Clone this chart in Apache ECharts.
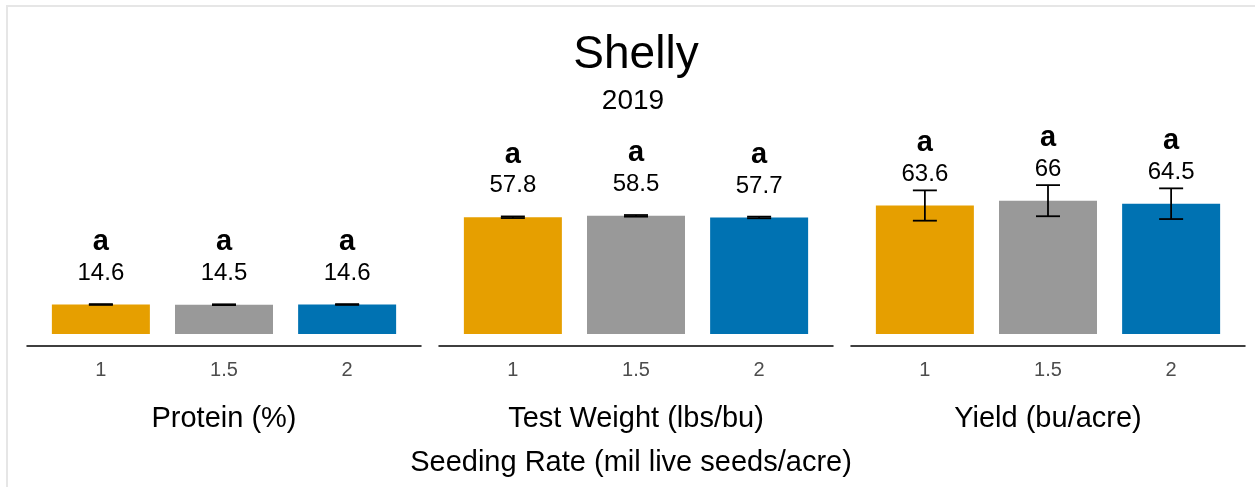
<!DOCTYPE html>
<html>
<head>
<meta charset="utf-8">
<script src="https://cdn.jsdelivr.net/npm/echarts@6/dist/echarts.min.js"></script>
<style>
    html, body { margin: 0; padding: 0; background: #fff; }
    #main { width: 1255px; height: 487px; }
    /* light frame round the plot, cut off at right and bottom */
    #frame { position: absolute; left: 6px; top: 5px; width: 1400px; height: 600px;
             border-left: 2px solid #e6e6e6; border-top: 2px solid #e6e6e6; pointer-events: none; }
</style>
</head>
<body>
<div id="main"></div>
<div id="frame"></div>
<script>
// seeding rates (mil live seeds/acre)
var rates = [1, 1.5, 2];
var rateColors = ['#E69F00', '#999999', '#0072B2'];

var traits = ['Protein (%)', 'Test Weight (lbs/bu)', 'Yield (bu/acre)'];

// means, standard errors and letter groups per trait
var proteinMean = [14.6, 14.5, 14.6];
var proteinSe = [0.2, 0.2, 0.2];
var proteinLetters = ['a', 'a', 'a'];

var testWeightMean = [57.8, 58.5, 57.7];
var testWeightSe = [0.4, 0.4, 0.4];
var testWeightLetters = ['a', 'a', 'a'];

var yieldMean = [63.6, 66, 64.5];
var yieldSe = [7.5, 7.7, 7.6];
var yieldLetters = ['a', 'a', 'a'];

var means = [proteinMean, testWeightMean, yieldMean];
var ses = [proteinSe, testWeightSe, yieldSe];
var letters = [proteinLetters, testWeightLetters, yieldLetters];

var chart = echarts.init(document.getElementById('main'));

var grids = [], xAxes = [], yAxes = [], series = [];
var lefts = [27, 439, 851];   // panel left edges

traits.forEach(function (trait, i) {
    grids.push({ left: lefts[i], width: 394, top: 132, bottom: 153 });

    xAxes.push({
        gridIndex: i,
        type: 'value',
        min: 0.7,
        max: 2.3,
        offset: 12,
        name: trait,
        nameLocation: 'middle',
        nameGap: 58,
        nameTextStyle: { fontSize: 29, color: '#000', fontFamily: 'Liberation Sans' },
        axisLine: { show: true, onZero: false, lineStyle: { color: '#000', width: 1.5 } },
        axisTick: { show: false },
        splitLine: { show: false },
        axisLabel: {
            customValues: rates,
            fontSize: 20,
            color: '#4d4d4d',
            margin: 14,
            fontFamily: 'Liberation Sans'
        }
    });

    yAxes.push({ gridIndex: i, type: 'value', min: 0, max: 100, show: false });

    // bars
    series.push({
        type: 'bar',
        xAxisIndex: i,
        yAxisIndex: i,
        barWidth: 98,
        data: rates.map(function (r, j) {
            return {
                value: [r, means[i][j]],
                itemStyle: { color: rateColors[j] },
                label: { formatter: '{a|' + letters[i][j] + '}\n{v|' + means[i][j] + '}' }
            };
        }),
        label: {
            show: true,
            position: 'top',
            distance: 16,
            fontFamily: 'Liberation Sans',
            rich: {
                a: { fontSize: 29, fontWeight: 'bold', color: '#000', lineHeight: 31, fontFamily: 'Liberation Sans' },
                v: { fontSize: 24, color: '#000', lineHeight: 31, fontFamily: 'Liberation Sans' }
            }
        }
    });

    // error bars (mean ± se)
    series.push({
        type: 'custom',
        xAxisIndex: i,
        yAxisIndex: i,
        z: 5,
        data: rates.map(function (r, j) { return [r, means[i][j], ses[i][j]]; }),
        renderItem: function (params, api) {
            var x = api.value(0), m = api.value(1), e = api.value(2);
            var hi = api.coord([x, m + e]);
            var lo = api.coord([x, m - e]);
            var cap = 12;
            var st = { stroke: '#000', lineWidth: 1.8 };
            return {
                type: 'group',
                children: [
                    { type: 'line', shape: { x1: hi[0], y1: hi[1], x2: lo[0], y2: lo[1] }, style: st },
                    { type: 'line', shape: { x1: hi[0] - cap, y1: hi[1], x2: hi[0] + cap, y2: hi[1] }, style: st },
                    { type: 'line', shape: { x1: lo[0] - cap, y1: lo[1], x2: lo[0] + cap, y2: lo[1] }, style: st }
                ]
            };
        }
    });
});

chart.setOption({
    animation: false,
    backgroundColor: '#fff',
    title: [{
        text: 'Shelly',
        left: 636, top: 32, padding: 0,
        textAlign: 'center',
        textStyle: { fontSize: 46, fontWeight: 'normal', color: '#000', fontFamily: 'Liberation Sans' }
    }, {
        text: '2019',
        left: 633, top: 87, padding: 0,
        textAlign: 'center',
        textStyle: { fontSize: 28, fontWeight: 'normal', color: '#000', fontFamily: 'Liberation Sans' }
    }, {
        text: 'Seeding Rate (mil live seeds/acre)',
        left: 631, top: 448, padding: 0,
        textAlign: 'center',
        textStyle: { fontSize: 29, fontWeight: 'normal', color: '#000', fontFamily: 'Liberation Sans' }
    }],
    grid: grids,
    xAxis: xAxes,
    yAxis: yAxes,
    series: series
});
</script>
</body>
</html>
